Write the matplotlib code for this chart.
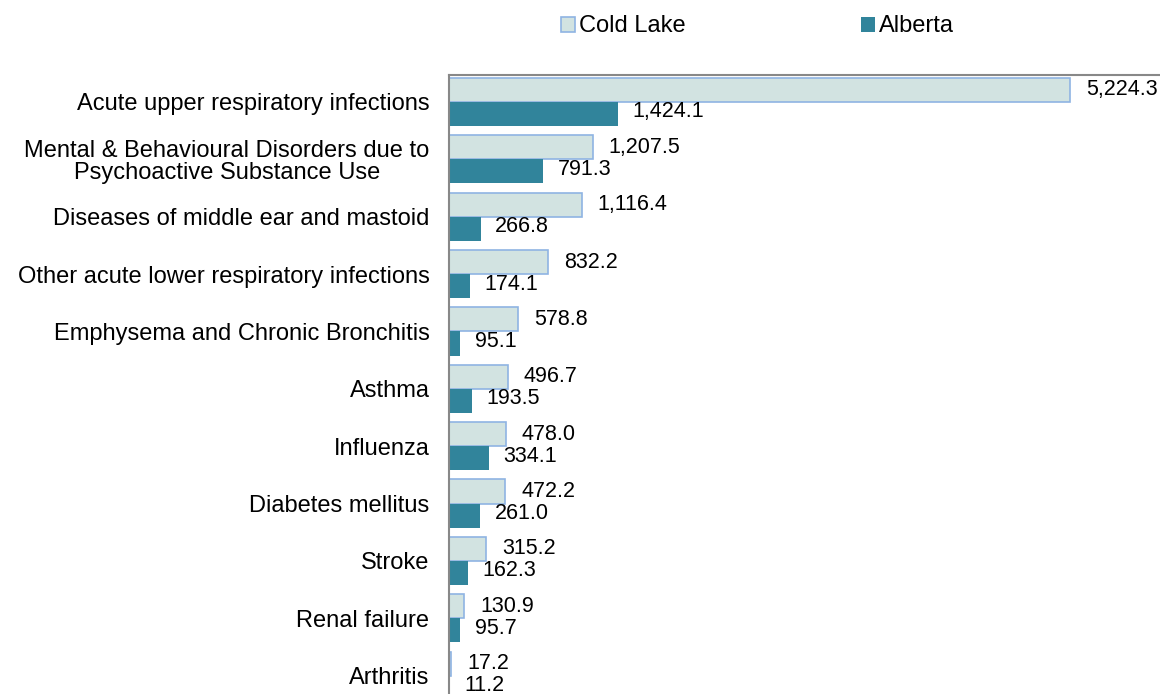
import matplotlib.pyplot as plt
import numpy as np

plt.rcParams['font.family'] = ['Liberation Sans', 'DejaVu Sans']

categories = [
    "Acute upper respiratory infections",
    "Mental & Behavioural Disorders due to\nPsychoactive Substance Use",
    "Diseases of middle ear and mastoid",
    "Other acute lower respiratory infections",
    "Emphysema and Chronic Bronchitis",
    "Asthma",
    "Influenza",
    "Diabetes mellitus",
    "Stroke",
    "Renal failure",
    "Arthritis",
]
cold_lake = [5224.3, 1207.5, 1116.4, 832.2, 578.8, 496.7, 478.0, 472.2, 315.2, 130.9, 17.2]
alberta = [1424.1, 791.3, 266.8, 174.1, 95.1, 193.5, 334.1, 261.0, 162.3, 95.7, 11.2]

cl_fill = "#d2e3e1"
cl_edge = "#8fb4e3"
ab_color = "#31849b"

fig = plt.figure(figsize=(11.6, 6.94), dpi=100)
ax = fig.add_axes([0.387, -0.015, 0.613, 0.907])

y = np.arange(len(categories))
h = 0.42
ax.barh(y - h / 2, cold_lake, height=h, color=cl_fill, edgecolor=cl_edge, linewidth=1.2, label="Cold Lake")
ax.barh(y + h / 2, alberta, height=h, color=ab_color, label="Alberta")

for i in range(len(categories)):
    ax.annotate(f"{cold_lake[i]:,.1f}", (cold_lake[i], y[i] - h / 2), xytext=(11.5, 0),
                textcoords="offset points", va="center", ha="left", fontsize=15.5)
    ax.annotate(f"{alberta[i]:,.1f}", (alberta[i], y[i] + h / 2), xytext=(10.5, 1.5),
                textcoords="offset points", va="center", ha="left", fontsize=15.5)

ax.set_yticks(y)
ax.set_yticklabels(categories, fontsize=17, ha="right", multialignment="center", linespacing=1.0)
ax.tick_params(axis="y", length=0, pad=14)
ax.set_xticks([])
ax.set_xlim(0, 5980)
ax.set_ylim(10.5, -0.47)

for s in ["right", "bottom"]:
    ax.spines[s].set_visible(False)
ax.spines["left"].set_color("#888888")
ax.spines["top"].set_color("#888888")
ax.spines["left"].set_linewidth(1.5)
ax.spines["top"].set_linewidth(1.5)

fig.legend(loc="center", bbox_to_anchor=(0.653, 0.962), ncol=2, frameon=False,
           fontsize=17, handlelength=0.6, handleheight=0.6, handletextpad=0.17,
           columnspacing=7.4)

fig.savefig("out.png", dpi=100)
